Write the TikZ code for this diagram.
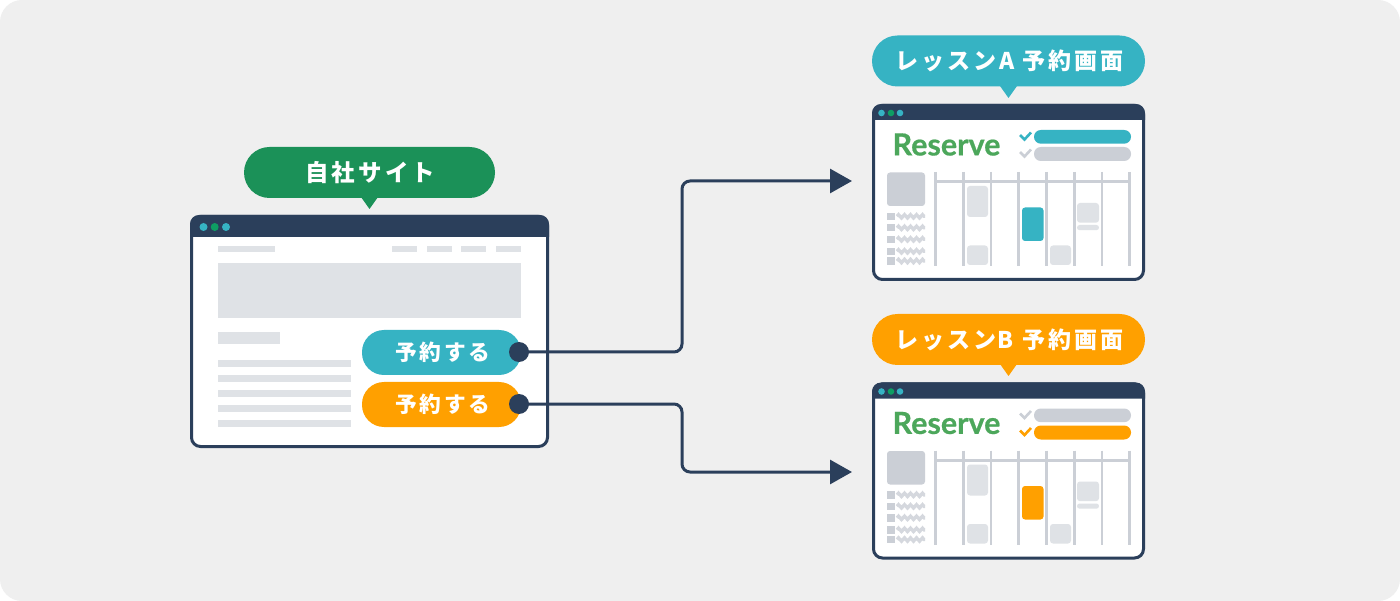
\documentclass[tikz,border=0pt]{standalone}
\usepackage{fontspec}
\usetikzlibrary{arrows.meta,decorations.pathmorphing}
\newfontfamily\jpfont[LetterSpace=13]{Noto Sans CJK JP}
\newfontfamily\logofont[BoldFeatures={FakeBold=0.6}]{Lato}
\definecolor{bgc}{HTML}{EFEFEF}
\definecolor{navy}{HTML}{2B3F5B}
\definecolor{teal}{HTML}{36B3C3}
\definecolor{amber}{HTML}{FFA000}
\definecolor{leaf}{HTML}{1B9158}
\definecolor{dotgreen}{HTML}{0E9E63}
\definecolor{lightg}{HTML}{DFE2E6}
\definecolor{midg}{HTML}{CBCFD6}
\definecolor{logog}{HTML}{4CA75B}
\tikzset{
  pill/.style={inner sep=0pt,text=white,font=\jpfont\bfseries\fontsize{23pt}{25pt}\selectfont,rounded corners=25.5pt,minimum width=#1,minimum height=51pt},
  button/.style={inner sep=0pt,text=white,font=\jpfont\bfseries\fontsize{21.7pt}{24pt}\selectfont,rounded corners=22pt,minimum width=159pt,minimum height=45pt},
  port/.style={circle,fill=navy,inner sep=0pt,minimum size=20pt},
  winframe/.style={draw=navy,fill=white,line width=3pt,rounded corners=9pt,inner sep=0pt},
  conn/.style={draw=navy,line width=3pt,rounded corners=8pt},
  vgrid/.style={midg,line width=2.6pt},
  gblock/.style={fill=lightg,rounded corners=3pt},
  wavy/.style={midg!80!white,line width=3.4pt,decorate,decoration={zigzag,segment length=6pt,amplitude=1.6pt}},
}
% shifted booking screen: #1 name, #2 y offset, #3 accent, #4 top row colour, #5 bottom row colour
\newcommand{\bookscreen}[5]{%
\begin{scope}[yshift=-#2pt]
  \node[winframe,minimum width=270pt,minimum height=174pt] (#1) at (1008.5,192.5) {};
  \fill[navy,rounded corners=9pt] (872,120) -- (872,104) -- (1145,104) -- (1145,120);
  \fill[teal] (881.5,113) circle (3.3pt);
  \fill[dotgreen] (891,113) circle (3.3pt);
  \fill[teal] (900,113) circle (3.3pt);
  \node[text=logog,inner sep=0pt,font=\logofont\bfseries\fontsize{30.5pt}{30pt}\selectfont] (#1logo) at (946.5,144.5) {Reserve};
  \draw[#4,line width=2.6pt] (1020,135) -- (1024.5,139.5) -- (1031,132.5);
  \draw[#5,line width=2.6pt] (1020,152) -- (1024.5,156.5) -- (1031,149.5);
  \fill[#4,rounded corners=6.8pt] (1034,130) rectangle (1131,143.7);
  \fill[#5,rounded corners=6.8pt] (1034,147) rectangle (1131,161);
  \fill[midg,rounded corners=3pt] (887,172.5) rectangle (925,206);
  \foreach \ry in {216.3,227.8,239.3,251.3,261} {
    \fill[midg] (887,\ry-3.7) rectangle (895,\ry+3.7);
    \draw[wavy] (897,\ry) -- (925,\ry);
  }
  \foreach \vx in {935.7,963.3,991,1018.7,1046.7,1074.3,1102,1129.7}
    \draw[vgrid] (\vx,172) -- (\vx,266);
  \draw[midg,line width=3pt] (935,182) -- (1131,182);
  \path[gblock] (967,186) rectangle (988,217);
  \path[gblock] (967,245.5) rectangle (988,265);
  \path[fill=#3,rounded corners=3pt] (1022,207.5) rectangle (1043.5,241);
  \path[gblock] (1050,245.5) rectangle (1071,265);
  \path[gblock] (1077,203) rectangle (1099,222.7);
  \path[fill=lightg,rounded corners=2.6pt] (1077,225) rectangle (1099,230.2);
\end{scope}}
\begin{document}
\begin{tikzpicture}[x=1pt,y=-1pt]
\useasboundingbox (0,0) rectangle (1400,601);
\fill[white] (0,0) rectangle (1400,601);
\fill[bgc,rounded corners=22pt] (0,0) rectangle (1400,601);

% source window
\node[winframe,minimum width=356pt,minimum height=230pt] (site) at (369.5,331.5) {};
\fill[navy,rounded corners=9pt] (190,237) -- (190,215) -- (549,215) -- (549,237);
\fill[teal] (203.5,227) circle (4pt);
\fill[dotgreen] (214.7,227) circle (4pt);
\fill[teal] (226,227) circle (4pt);
\fill[lightg] (218,246) rectangle (275,252);
\foreach \mx in {392,427,461,496} \fill[lightg] (\mx,246) rectangle (\mx+25,252);
\fill[lightg] (218,263) rectangle (521,318);
\fill[lightg] (218,332) rectangle (280,344);
\foreach \ly in {360,375,390,405,419.5} \fill[lightg] (218,\ly) rectangle (351,\ly+7);

% site label
\fill[leaf] (361,197) -- (369.5,209) -- (378,197) -- cycle;
\node[pill=251pt,fill=leaf,font=\jpfont\bfseries\fontsize{23.5pt}{25pt}\selectfont] (siteLabel) at (369.5,172.5) {\hspace{1.5pt}自社サイト};

% buttons
\node[button,fill=teal] (btnA) at (441.5,352.5) {\hspace{3pt}予約する};
\node[button,fill=amber] (btnB) at (441.5,404.5) {\hspace{3pt}予約する};

% booking screens
\bookscreen{winA}{0}{teal}{teal}{midg}
\bookscreen{winB}{278.5}{amber}{midg}{amber}

% screen labels
\fill[teal] (1000,86) -- (1008.5,98) -- (1017,86) -- cycle;
\node[pill=273pt,fill=teal] (labA) at (1008.5,61) {\hspace{2pt}レッスンA 予約画面};
\fill[amber] (1000,364) -- (1008.5,376) -- (1017,364) -- cycle;
\node[pill=273pt,fill=amber] (labB) at (1008.5,339.5) {\hspace{2pt}レッスン\kern1pt B\kern9pt 予約画面};

% connectors
\node[port] (dotA) at (519,352) {};
\node[port] (dotB) at (519,404) {};
\coordinate (tipA) at (852,181);
\coordinate (tipB) at (852,472);
\coordinate (midA) at (682,266);
\coordinate (midB) at (682,438);
\draw[conn,-{Triangle[length=22pt,width=24pt]}] (dotA.center) -| (midA) |- (tipA);
\draw[conn,-{Triangle[length=22pt,width=24pt]}] (dotB.center) -| (midB) |- (tipB);
\end{tikzpicture}
\end{document}
